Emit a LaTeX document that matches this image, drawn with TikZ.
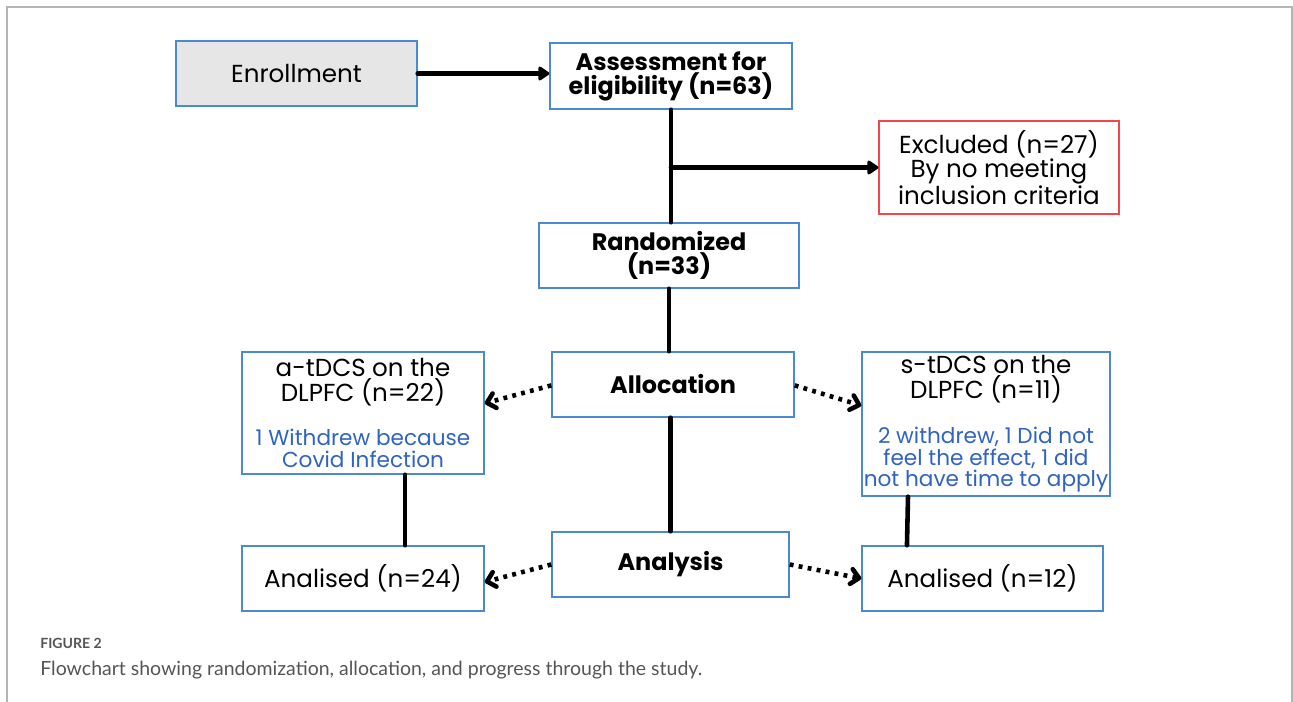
\documentclass[tikz,border=0pt]{standalone}
\usepackage{fontspec}
\setmainfont{Poppins}
\newfontfamily\capfont{Lato}
\usepackage{xcolor}
\usetikzlibrary{arrows.meta}
\usetikzlibrary{positioning}

\definecolor{boxblue}{HTML}{4A8AD0}
\definecolor{notecol}{HTML}{2F63C4}
\definecolor{exred}{HTML}{F0484C}
\definecolor{enrgray}{HTML}{E6E6E6}
\definecolor{framegray}{HTML}{B4B4B4}
\definecolor{capgray}{HTML}{555555}

\newcommand{\note}[1]{{\fontsize{12.3}{12}\selectfont\color{notecol}#1}}

\tikzset{
  box/.style={draw=boxblue, line width=0.8pt, fill=white, align=center, inner sep=0pt,
    font=\fontsize{14}{13.7}\selectfont},
  tdcsbox/.style={box, font=\fontsize{14}{12.4}\selectfont},
  boldbox/.style={box, font=\fontsize{13.6}{13.7}\selectfont\bfseries},
  flow/.style={line width=2.6pt, line cap=round},
  flowarrow/.style={flow, -{Triangle[round,length=7pt,width=9pt]}},
  dotarrow/.style={line width=2.6pt, dash pattern=on 2.2pt off 3pt,
    -{Straight Barb[round,length=4.5pt,width=8.5pt,line width=2.6pt]}}
}

\begin{document}
\begin{tikzpicture}[x=0.02cm, y=-0.02cm]
    \useasboundingbox (0,0) rectangle (1293,702);
    % frame
    \draw[framegray, line width=0.7pt] (7,702) -- (7,7) -- (1292,7) -- (1292,702);
    % nodes
    \node[box, fill=enrgray, minimum width=241*0.02cm, minimum height=65*0.02cm] (enroll) at(296.5,73.5) {Enrollment};
    \node[boldbox, minimum width=242*0.02cm, minimum height=66*0.02cm] (assess) at(671,76) {Assessment for\\eligibility (n=63)};
    \node[box, draw=exred, minimum width=240*0.02cm, minimum height=93*0.02cm] (excl) at(999,167.5) {Excluded (n=27)\\By no meeting\\inclusion criteria};
    \node[boldbox, minimum width=260*0.02cm, minimum height=65*0.02cm] (rand) at(669,255.5) {Randomized\\(n=33)};
    \node[boldbox, minimum width=242*0.02cm, minimum height=65*0.02cm] (alloc) at(673,384.5) {Allocation};
    \node[tdcsbox, minimum width=242*0.02cm, minimum height=122*0.02cm] (atdcs) at(363,413) {a-tDCS on the\\DLPFC (n=22)\\[13pt]\note{1 Withdrew because}\\\note{Covid Infection}};
    \node[tdcsbox, minimum width=248*0.02cm, minimum height=144*0.02cm] (stdcs) at(986,424) {s-tDCS on the\\DLPFC (n=11)\\[13pt]\note{2 withdrew, 1 Did not}\\\note{feel the effect, 1 did}\\\note{not have time to apply}};
    \node[boldbox, minimum width=237*0.02cm, minimum height=65*0.02cm] (analysis) at(670.5,564.5) {Analysis};
    \node[box, minimum width=242*0.02cm, minimum height=65*0.02cm] (an24) at(363,578.5) {Analised (n=24)};
    \node[box, minimum width=241*0.02cm, minimum height=65*0.02cm] (an12) at(982.5,578.5) {Analised (n=12)};
    % solid connectors
    \draw[flowarrow] (enroll.east) -- (assess.west |- enroll.east);
    \draw[flow] (assess.south) -- (assess.south |- rand.north);
    \draw[flowarrow] (assess.south |- excl.west) -- (excl.west);
    \draw[flow] (rand.south) -- (rand.south |- alloc.north);
    \draw[flow] (alloc.south -| analysis.north) -- (analysis.north);
    \draw[flow] ([xshift=24pt]atdcs.south) -- ([xshift=24pt]an24.north);
    \draw[flow] ([xshift=-44.4pt]stdcs.south) -- ([xshift=-43pt]an12.north);
    % dotted arrows
    \draw[dotarrow] ([yshift=-0.5pt]alloc.west) -- ([yshift=5.5pt]atdcs.east);
    \draw[dotarrow] ([yshift=-0.5pt]alloc.east) -- ([yshift=10.5pt]stdcs.west);
    \draw[dotarrow] ([yshift=0pt]analysis.west) -- ([yshift=-2pt]an24.east);
    \draw[dotarrow] ([yshift=0pt]analysis.east) -- ([yshift=0pt]an12.west);
    % caption
    \node[anchor=base west, inner sep=0pt, text=capgray, font=\capfont\bfseries\fontsize{8}{9}\selectfont] (fig) at(40,648) {FIGURE 2};
    \node[anchor=base west, inner sep=0pt, text=capgray, font=\capfont\fontsize{11.1}{12}\selectfont] (cap) at(40,675) {Flowchart showing randomization, allocation, and progress through the study.};
\end{tikzpicture}
\end{document}
